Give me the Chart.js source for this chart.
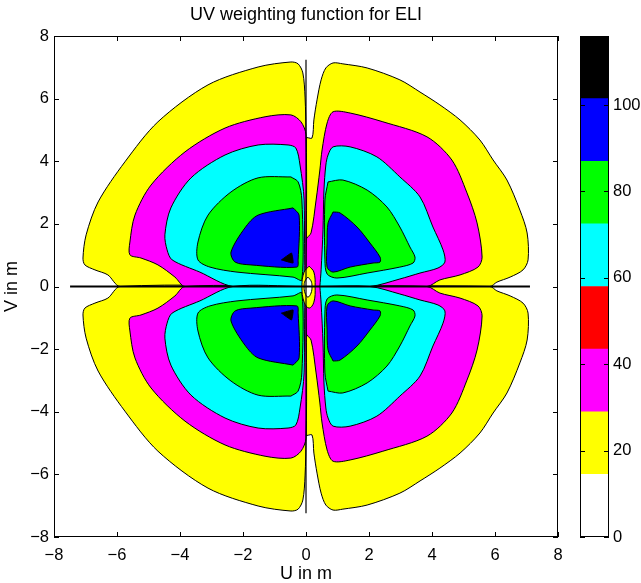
<!DOCTYPE html>
<html>
<head>
<meta charset="utf-8">
<script src="https://cdn.jsdelivr.net/npm/chart.js"></script>
<style>
  html, body { margin: 0; padding: 0; background: #fff; overflow: hidden; }
  #wrap { position: relative; width: 641px; height: 583px; overflow: hidden; }
  #uv { position: absolute; left: 0; top: 0; }
  #bar { position: absolute; left: 560px; top: 0; }
</style>
</head>
<body>
<div id="wrap">
  <canvas id="uv" width="641" height="592"></canvas>
  <canvas id="bar" width="81" height="592"></canvas>
</div>
<script>
'use strict';

// colour levels of the filled contours (weight), same as the colour bar
let levelEdges = [0, 14.5, 29, 43.5, 58, 72.5, 87, 101.5, 116];
let levelColors = ['#ffffff', '#ffff00', '#ff00ff', '#ff0000', '#00ffff', '#00ff00', '#0000ff', '#000000'];
let colorbarTicks = [0, 20, 40, 60, 80, 100];
let uvTicks = [-8, -6, -4, -2, 0, 2, 4, 6, 8];

// contour outlines, [U, V] in m, upper half only
// (the lower half is the mirror image in V)
let yellowRight = [[0, 0], [0, 4.74], [0.19, 4.74], [0.25, 5.32], [0.35, 5.96], [0.48, 6.6], [0.63, 6.98], [0.86, 7.14], [1.17, 7.11], [1.94, 6.98], [2.98, 6.6], [3.62, 6.21], [4.25, 5.8], [4.89, 5.32], [5.52, 4.68], [5.94, 4.04], [6.38, 3.4], [6.79, 2.44], [7.02, 1.71], [7.05, 0.85], [6.89, 0.53], [6.48, 0.3], [6.06, 0.14], [5.84, 0]];
let yellowLeft = [[0, 0], [0, 4.78], [-0.03, 6.05], [-0.1, 6.82], [-0.25, 7.11], [-0.48, 7.17], [-1.52, 7.01], [-3.11, 6.44], [-4.7, 5.26], [-5.75, 3.98], [-6.6, 2.7], [-6.98, 1.65], [-7.08, 0.91], [-7.02, 0.69], [-6.7, 0.53], [-6.29, 0.37], [-5.9, 0]];

let magentaRight = [[0, 0], [0, 1.49], [0.16, 1.71], [0.32, 2.76], [0.44, 3.72], [0.51, 4.36], [0.67, 5.22], [0.86, 5.58], [1.4, 5.54], [2.44, 5.26], [3.84, 4.78], [4.63, 4.04], [5.11, 2.99], [5.43, 2.03], [5.59, 0.94], [5.46, 0.62], [4.89, 0.37], [4.25, 0.21], [3.84, 0]];
let magentaLeft = [[0, 0], [0, 4.84], [-0.16, 5.26], [-0.48, 5.48], [-1.3, 5.42], [-2.57, 5.06], [-3.84, 4.3], [-4.92, 3.24], [-5.43, 2.28], [-5.59, 1.42], [-5.59, 1.01], [-5.24, 0.91], [-4.7, 0.69], [-4.16, 0.3], [-3.84, 0]];

let cyanRight = [[0.44, 0], [0.48, 0.53], [0.54, 1.81], [0.57, 3.08], [0.63, 3.88], [0.7, 4.2], [0.86, 4.46], [1.4, 4.46], [2.25, 4.14], [2.98, 3.5], [3.62, 2.86], [4.03, 1.9], [4.35, 1.17], [4.41, 0.78], [4.19, 0.59], [3.62, 0.43], [2.98, 0.24], [2.03, 0]];
let cyanLeft = [[-0.06, 0], [-0.06, 2.76], [-0.19, 3.88], [-0.32, 4.42], [-0.57, 4.52], [-1.52, 4.52], [-2.57, 4.2], [-3.65, 3.47], [-4.29, 2.51], [-4.48, 1.65], [-4.41, 1.17], [-4.25, 0.85], [-3.37, 0.46], [-2.32, 0]];

let greenRight = [[0.7, 3.34], [1.17, 3.4], [1.94, 3.08], [2.57, 2.54], [2.98, 1.9], [3.3, 1.26], [3.46, 0.94], [3.4, 0.75], [2.98, 0.62], [1.94, 0.43], [0.98, 0.27], [0.67, 0.4], [0.6, 0.85], [0.6, 2.76]];
let greenLeft = [[-0.48, 3.5], [-1.52, 3.47], [-2.38, 3.02], [-3.11, 2.28], [-3.43, 1.42], [-3.43, 0.85], [-3.05, 0.62], [-2.19, 0.46], [-0.41, 0.3], [-0.13, 0.21], [-0.13, 2.76], [-0.25, 3.34]];

let blueRight = [[0.86, 2.38], [1.08, 2.35], [1.62, 1.9], [2.03, 1.39], [2.35, 0.94], [2.35, 0.78], [2.13, 0.75], [1.4, 0.62], [0.86, 0.46], [0.67, 0.62], [0.67, 1.39], [0.7, 2.03]];
let blueLeft = [[-0.41, 2.51], [-1.52, 2.28], [-1.94, 1.87], [-2.38, 1.1], [-2.25, 0.78], [-1.75, 0.69], [-0.29, 0.62], [-0.25, 0.85], [-0.22, 2.28]];

let blackLeft = [[-0.78, 0.85], [-0.46, 1.07], [-0.41, 0.75]];

// small closed contours round the origin (whole shapes, not mirrored)
let centreYellow = [[0.1, 0.65], [0.25, 0.46], [0.29, 0], [0.25, -0.5], [0.1, -0.69], [-0.06, -0.5], [-0.13, 0], [-0.06, 0.46]];
let centreWhite = [[0.06, 0.3], [0.16, 0.18], [0.19, 0], [0.16, -0.21], [0.06, -0.34], [-0.03, -0.21], [-0.06, 0], [-0.03, 0.18]];

// thin ridges along the axes
let uRidge = [[-7.49, 0], [7.11, 0]];
let vRidge = [[0, -7.24], [0, 7.24]];

let fontFamily = '"Liberation Sans", Arial, Helvetica, sans-serif';
Chart.defaults.font.family = fontFamily;
Chart.defaults.color = '#000';

function flipV(points){
  return points.map(p => [p[0], -p[1]]);
}

function closed(points){
  let data = points.map(p => ({x: p[0], y: p[1]}));
  data.push({x: points[0][0], y: points[0][1]});
  return data;
}

let datasets = [];
function addShape(points, color, smooth){
  datasets.push({
    data: closed(points),
    backgroundColor: color,
    borderColor: '#000',
    borderWidth: 1,
    fill: 'shape',
    pointRadius: 0,
    tension: smooth
  });
}

// bottom to top
let layers = [
  [yellowRight, yellowLeft, levelColors[1]],
  [magentaRight, magentaLeft, levelColors[2]],
  [cyanRight, cyanLeft, levelColors[4]],
  [greenRight, greenLeft, levelColors[5]],
  [blueRight, blueLeft, levelColors[6]]
];
for(let i = 0; i < layers.length; i++){
  let [right, left, color] = layers[i];
  addShape(right, color, 0.3);
  addShape(flipV(right), color, 0.3);
  addShape(left, color, 0.3);
  addShape(flipV(left), color, 0.3);
}
addShape(blackLeft, levelColors[7], 0.1);
addShape(flipV(blackLeft), levelColors[7], 0.1);
addShape(centreYellow, levelColors[1], 0.4);
addShape(centreWhite, levelColors[0], 0.4);

[[uRidge, 2], [vRidge, 1.2]].forEach(function(r){
  datasets.push({
    data: r[0].map(p => ({x: p[0], y: p[1]})),
    borderColor: '#000',
    borderWidth: r[1],
    fill: false,
    pointRadius: 0
  });
});

// first drawn = highest order
datasets.forEach(function(d, i){ d.order = datasets.length - i; });

function minusSign(value){
  return String(value).replace('-', '\u2212');
}

// inward tick marks and a closed frame, like the original axes
let frameTicks = {
  id: 'frameTicks',
  afterDraw(chart){
    let {ctx, chartArea: a, scales} = chart;
    let len = 5;
    ctx.save();
    ctx.strokeStyle = '#000';
    ctx.lineWidth = 1;
    ctx.strokeRect(a.left + 0.5, a.top + 0.5, a.right - a.left - 1, a.bottom - a.top - 1);
    ctx.beginPath();
    if(scales.x && scales.x.type === 'linear'){
      scales.x.ticks.forEach(function(t){
        let px = Math.round(scales.x.getPixelForValue(t.value)) + 0.5;
        ctx.moveTo(px, a.bottom); ctx.lineTo(px, a.bottom - len);
        ctx.moveTo(px, a.top); ctx.lineTo(px, a.top + len);
      });
    }
    scales.y.ticks.forEach(function(t){
      let py = Math.round(scales.y.getPixelForValue(t.value)) + 0.5;
      ctx.moveTo(a.left, py); ctx.lineTo(a.left + len, py);
      ctx.moveTo(a.right, py); ctx.lineTo(a.right - len, py);
    });
    ctx.stroke();
    ctx.restore();
  }
};

new Chart(document.getElementById('uv'), {
  type: 'line',
  data: { datasets: datasets },
  options: {
    responsive: false,
    animation: false,
    layout: { padding: { left: 0, right: 83, top: 0, bottom: 0 } },
    plugins: {
      legend: { display: false },
      tooltip: { enabled: false },
      title: {
        display: true,
        text: 'UV weighting function for ELI',
        fullSize: false,
        font: { size: 18, weight: 'normal' },
        padding: { top: 4, bottom: 10.4 }
      }
    },
    scales: {
      x: {
        type: 'linear',
        min: -8,
        max: 8,
        afterBuildTicks: s => { s.ticks = uvTicks.map(v => ({value: v})); },
        afterFit: s => { s.height = 55; },
        grid: { display: false, drawTicks: false },
        border: { display: false },
        ticks: { font: { size: 16.5 }, padding: 9, maxRotation: 0, callback: minusSign },
        title: { display: true, text: 'U in m', font: { size: 18 }, padding: { top: 0, bottom: 7 } }
      },
      y: {
        type: 'linear',
        min: -8,
        max: 8,
        afterBuildTicks: s => { s.ticks = uvTicks.map(v => ({value: v})); },
        afterFit: s => { s.width = 54; },
        grid: { display: false, drawTicks: false },
        border: { display: false },
        ticks: { font: { size: 16.5 }, padding: 5, callback: minusSign },
        title: { display: true, text: 'V in m', font: { size: 18 }, padding: { top: 1, bottom: 0 } }
      }
    }
  },
  plugins: [frameTicks]
});

// colour bar: one floating bar per level
let barSets = [];
for(let i = 0; i < levelColors.length; i++){
  barSets.push({
    data: [[levelEdges[i], levelEdges[i + 1]]],
    backgroundColor: levelColors[i],
    borderWidth: 0,
    barPercentage: 1,
    categoryPercentage: 1
  });
}

new Chart(document.getElementById('bar'), {
  type: 'bar',
  data: { labels: [''], datasets: barSets },
  options: {
    responsive: false,
    animation: false,
    layout: { padding: { left: 20, right: 0, top: 36, bottom: 55 } },
    plugins: { legend: { display: false }, tooltip: { enabled: false } },
    scales: {
      x: { display: false, stacked: true },
      y: {
        position: 'right',
        min: levelEdges[0],
        max: levelEdges[levelEdges.length - 1],
        afterBuildTicks: s => { s.ticks = colorbarTicks.map(v => ({value: v})); },
        afterFit: s => { s.width = 32; },
        grid: { display: false, drawTicks: false },
        border: { display: false },
        ticks: { font: { size: 16.5 }, padding: 4 }
      }
    }
  },
  plugins: [frameTicks]
});
</script>
</body>
</html>
